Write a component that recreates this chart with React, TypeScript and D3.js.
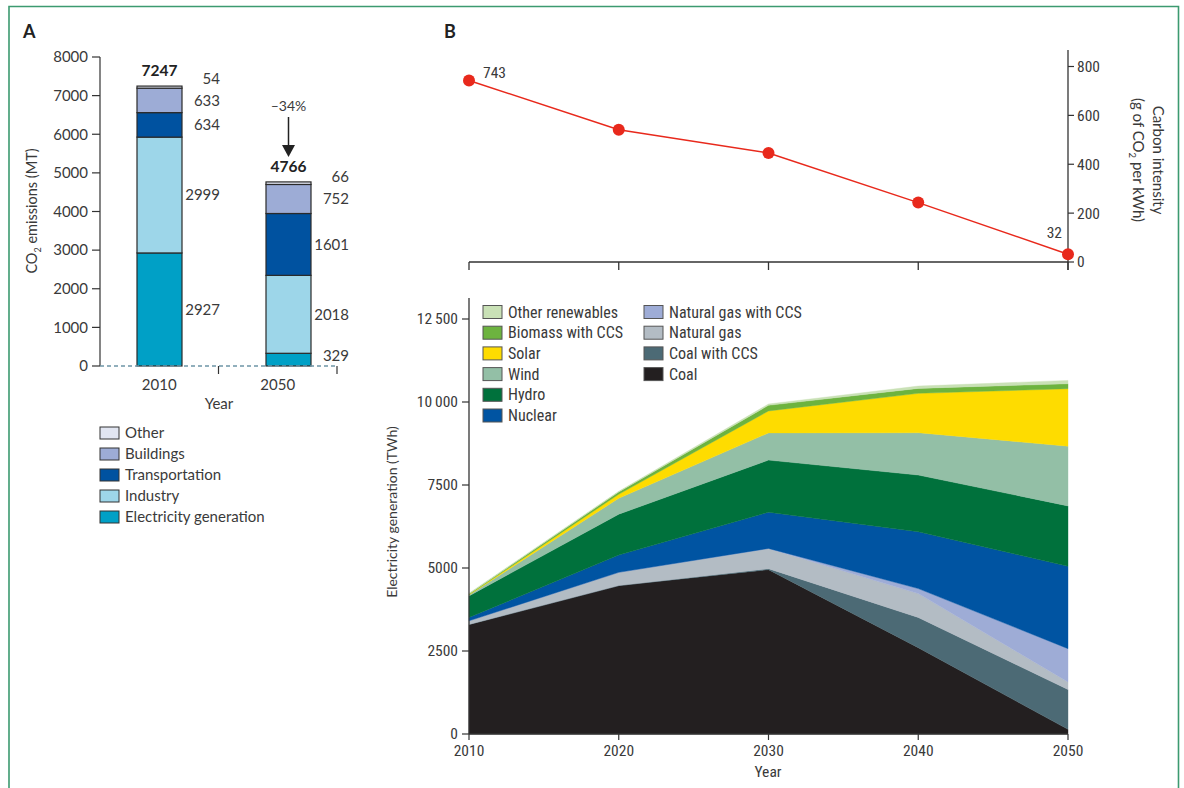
import React from "react";
import * as d3 from "d3";

// ---------- Panel A data ----------
const barYears = ["2010", "2050"];
const sectors = ["Electricity generation", "Industry", "Transportation", "Buildings", "Other"];
const electricity = [2927, 329];
const industry = [2999, 2018];
const transportation = [634, 1601];
const buildings = [633, 752];
const otherSector = [54, 66];
const totals = [7247, 4766];
const sectorColors = ["#00a0c6", "#9dd6e9", "#0052a0", "#9dacd6", "#e1e5f1"];
const yTicksA = [0, 1000, 2000, 3000, 4000, 5000, 6000, 7000, 8000];
const reductionLabel = "–34%";

// ---------- Panel B data ----------
const years = [2010, 2020, 2030, 2040, 2050];
const intensity = [743, 541, 446, 243, 32];
const intensityTicks = [0, 200, 400, 600, 800];

const coal = [3300, 4470, 4950, 2600, 140];
const coalCCS = [0, 0, 30, 910, 1200];
const naturalGas = [110, 400, 610, 720, 230];
const gasCCS = [0, 0, 0, 150, 1000];
const nuclear = [100, 520, 1090, 1710, 2480];
const hydro = [650, 1230, 1570, 1710, 1820];
const wind = [30, 480, 820, 1275, 1800];
const solar = [10, 120, 660, 1185, 1730];
const biomassCCS = [20, 70, 170, 150, 150];
const otherRenew = [20, 20, 40, 70, 100];
const genTicks = [0, 2500, 5000, 7500, 10000, 12500];

const sourceNames = [
  "Coal", "Coal with CCS", "Natural gas", "Natural gas with CCS", "Nuclear",
  "Hydro", "Wind", "Solar", "Biomass with CCS", "Other renewables",
];
const sourceSeries = [coal, coalCCS, naturalGas, gasCCS, nuclear, hydro, wind, solar, biomassCCS, otherRenew];
const sourceColors = [
  "#231f20", "#4c6a75", "#b3bcc4", "#9eacd6", "#0054a2",
  "#00713c", "#93bfa6", "#fedc00", "#6db33f", "#c9e1b6",
];
const legendCol1 = ["Other renewables", "Biomass with CCS", "Solar", "Wind", "Hydro", "Nuclear"];
const legendCol2 = ["Natural gas with CCS", "Natural gas", "Coal with CCS", "Coal"];

const FA = "Lato, 'Open Sans', sans-serif";
const FB = "'Liberation Sans Narrow', 'Roboto Condensed', Lato, sans-serif";
const TXT = "#3a3a3a";
const AX = "#333";

export default function App() {
  // ---- Panel A scales ----
  const yA = d3.scaleLinear().domain([0, 8000]).range([366, 57]);
  const xBand = d3.scaleBand<string>().domain(barYears).range([100, 337]);
  const xBar = d3.scalePoint<string>().domain(barYears).range([159.5, 288.5]);
  const barW = 45;
  const sectorVals = [electricity, industry, transportation, buildings, otherSector];

  const barGroups = barYears.map((yr, i) => {
    let cum = 0;
    const segs = sectorVals.map((arr, k) => {
      const y0 = cum;
      cum += arr[i];
      return { k, y0, y1: cum, v: arr[i] };
    });
    let prev = Infinity;
    const labels = segs.map((s) => {
      let ly = Math.min(yA((s.y0 + s.y1) / 2), 356);
      if (prev - ly < 22) ly = prev - 22;
      prev = ly;
      return { v: s.v, ly, k: s.k };
    });
    return { yr, i, segs, labels, total: cum };
  });

  // ---- Panel B scales ----
  const xB = d3.scaleLinear().domain([2010, 2050]).range([469, 1068]);
  const yLine = d3.scaleLinear().domain([0, 800]).range([262, 66.5]);
  const yArea = d3.scaleLinear().domain([0, 12500]).range([734, 319]);

  const lineGen = d3
    .line<number>()
    .x((_, i) => xB(years[i]))
    .y((d) => yLine(d));

  const table = years.map((yr, i) => {
    const row: Record<string, number> = { year: yr };
    sourceNames.forEach((n, k) => (row[n] = sourceSeries[k][i]));
    return row;
  });
  const stacked = d3.stack<Record<string, number>>().keys(sourceNames)(table);
  const areaGen = d3
    .area<d3.SeriesPoint<Record<string, number>>>()
    .x((d) => xB(d.data.year))
    .y0((d) => yArea(d[0]))
    .y1((d) => yArea(d[1]));

  const fmt = (v: number) => (v >= 10000 ? d3.format(",")(v).replace(",", "\u2009") : String(v));

  return (
    <svg
      width={1184}
      height={788}
      style={{ position: "absolute", left: 0, top: 0, background: "#fff" }}
    >
      {/* frame */}
      <path d="M9,788 V6.5 H1178.5 V788" fill="none" stroke="#3c9a70" strokeWidth={1.6} />

      {/* ================= Panel A ================= */}
      <text x={23} y={38} fontFamily={FA} fontWeight={700} fontSize={18} fill="#222">A</text>

      <line x1={100} x2={100} y1={yA(8000)} y2={yA(0)} stroke={AX} strokeWidth={1.2} />
      {yTicksA.map((t) => (
        <g key={t}>
          <line x1={92} x2={100} y1={yA(t)} y2={yA(t)} stroke={AX} strokeWidth={1.2} />
          <text x={88} y={yA(t)} dy="0.35em" textAnchor="end" fontFamily={FA} fontSize={15} fill={TXT}>
            {t}
          </text>
        </g>
      ))}
      <text
        transform={`translate(37,${211}) rotate(-90)`}
        textAnchor="middle"
        fontFamily={FA}
        fontSize={14.5}
        fill={TXT}
      >
        CO<tspan fontSize={9} dy={4}>2</tspan>
        <tspan dy={-4}> emissions (MT)</tspan>
      </text>

      {barGroups.map((g) => {
        const cx = xBar(g.yr)!;
        return (
          <g key={g.yr}>
            {g.segs.map((s) => (
              <rect
                key={s.k}
                x={cx - barW / 2}
                y={yA(s.y1)}
                width={barW}
                height={yA(s.y0) - yA(s.y1)}
                fill={sectorColors[s.k]}
                stroke="#2a2a2a"
                strokeWidth={1.2}
              />
            ))}
            {g.labels.map((l) => (
              <text
                key={l.k}
                x={cx + barW / 2 + 38}
                y={l.ly}
                dy="0.35em"
                textAnchor="end"
                fontFamily={FA}
                fontSize={15}
                fill={TXT}
              >
                {l.v}
              </text>
            ))}
            <text
              x={cx}
              y={yA(totals[g.i]) - 10}
              textAnchor="middle"
              fontFamily={FA}
              fontWeight={700}
              fontSize={15.5}
              fill="#222"
            >
              {totals[g.i]}
            </text>
          </g>
        );
      })}

      {(() => {
        const cx = xBar(barYears[1])!;
        return (
          <g>
            <text x={cx} y={111} textAnchor="middle" fontFamily={FA} fontSize={14} fill={TXT}>
              {reductionLabel}
            </text>
            <line x1={cx} x2={cx} y1={117} y2={146} stroke="#222" strokeWidth={1.5} />
            <path d={`M${cx - 6.5},145 L${cx + 6.5},145 L${cx},157 Z`} fill="#222" />
          </g>
        );
      })()}

      <line x1={100} x2={337} y1={yA(0)} y2={yA(0)} stroke="#6d95a6" strokeWidth={1.3} strokeDasharray="4,3" />
      {barYears.map((yr) => (
        <g key={yr}>
          <line
            x1={xBand(yr)! + xBand.bandwidth()}
            x2={xBand(yr)! + xBand.bandwidth()}
            y1={yA(0)}
            y2={yA(0) + 8}
            stroke={AX}
            strokeWidth={1.2}
          />
          <text x={xBand(yr)! + xBand.bandwidth() / 2} y={390} textAnchor="middle" fontFamily={FA} fontSize={15} fill={TXT}>
            {yr}
          </text>
        </g>
      ))}
      <text x={219} y={409} textAnchor="middle" fontFamily={FA} fontSize={15} fill={TXT}>Year</text>

      {[...sectors].reverse().map((s, j) => {
        const k = sectors.length - 1 - j;
        const y = 433 + j * 21;
        return (
          <g key={s}>
            <rect x={100} y={y - 6} width={19} height={12} fill={sectorColors[k]} stroke="#333" strokeWidth={1} />
            <text x={125} y={y} dy="0.35em" fontFamily={FA} fontSize={15} fill={TXT}>{s}</text>
          </g>
        );
      })}

      {/* ================= Panel B ================= */}
      <text x={444} y={38} fontFamily={FA} fontWeight={700} fontSize={18} fill="#222">B</text>

      <line x1={xB(2010)} x2={xB(2050)} y1={yLine(0)} y2={yLine(0)} stroke={AX} strokeWidth={1.3} />
      {years.map((yr) => (
        <line key={yr} x1={xB(yr)} x2={xB(yr)} y1={yLine(0)} y2={yLine(0) + 8} stroke={AX} strokeWidth={1.3} />
      ))}
      <line x1={xB(2050)} x2={xB(2050)} y1={50} y2={yLine(0) + 8} stroke={AX} strokeWidth={1.3} />
      {intensityTicks.map((t) => (
        <g key={t}>
          <line x1={xB(2050)} x2={xB(2050) + 6} y1={yLine(t)} y2={yLine(t)} stroke={AX} strokeWidth={1.2} />
          <text x={xB(2050) + 9} y={yLine(t)} dy="0.35em" fontFamily={FB} fontSize={15.5} fill={TXT}>{t}</text>
        </g>
      ))}
      <text transform={`translate(1153,160) rotate(90)`} textAnchor="middle" fontFamily={FA} fontSize={15} fill={TXT}>
        Carbon intensity
      </text>
      <text transform={`translate(1133,160) rotate(90)`} textAnchor="middle" fontFamily={FA} fontSize={15} fill={TXT}>
        (g of CO<tspan fontSize={9.5} dy={4}>2</tspan><tspan dy={-4}> per kWh)</tspan>
      </text>

      <path d={lineGen(intensity) ?? ""} fill="none" stroke="#e8291c" strokeWidth={1.5} />
      {intensity.map((v, i) => (
        <circle key={i} cx={xB(years[i])} cy={yLine(v)} r={6} fill="#e8291c" />
      ))}
      <text x={xB(years[0]) + 14} y={yLine(intensity[0]) - 2} fontFamily={FB} fontSize={15.5} fill={TXT}>
        {intensity[0]}
      </text>
      <text
        x={xB(years[4]) - 6}
        y={yLine(intensity[4]) - 16}
        textAnchor="end"
        fontFamily={FB}
        fontSize={15.5}
        fill={TXT}
      >
        {intensity[4]}
      </text>

      {stacked.map((s, k) => (
        <path key={s.key} d={areaGen(s) ?? ""} fill={sourceColors[k]} stroke={sourceColors[k]} strokeWidth={0.4} />
      ))}

      <line x1={xB(2010)} x2={xB(2010)} y1={298} y2={yArea(0)} stroke={AX} strokeWidth={1.3} />
      <line x1={xB(2010)} x2={xB(2050)} y1={yArea(0)} y2={yArea(0)} stroke={AX} strokeWidth={1.3} />
      {genTicks.map((t) => (
        <g key={t}>
          <line x1={xB(2010) - 7} x2={xB(2010)} y1={yArea(t)} y2={yArea(t)} stroke={AX} strokeWidth={1.2} />
          <text x={xB(2010) - 11} y={yArea(t)} dy="0.35em" textAnchor="end" fontFamily={FB} fontSize={15.5} fill={TXT}>
            {fmt(t)}
          </text>
        </g>
      ))}
      {years.map((yr) => (
        <g key={yr}>
          <line x1={xB(yr)} x2={xB(yr)} y1={yArea(0)} y2={yArea(0) + 6} stroke={AX} strokeWidth={1.2} />
          <text x={xB(yr)} y={756} textAnchor="middle" fontFamily={FB} fontSize={15.5} fill={TXT}>{yr}</text>
        </g>
      ))}
      <text x={768} y={777} textAnchor="middle" fontFamily={FB} fontSize={15.5} fill={TXT}>Year</text>
      <text
        transform={`translate(397,512) rotate(-90)`}
        textAnchor="middle"
        fontFamily={FA}
        fontSize={14}
        fill={TXT}
      >
        Electricity generation (TWh)
      </text>

      {legendCol1.map((n, j) => {
        const k = sourceNames.indexOf(n);
        const y = 312 + j * 20.7;
        return (
          <g key={n}>
            <rect x={483} y={y - 6.5} width={19} height={13} fill={sourceColors[k]} stroke="#555" strokeWidth={1} />
            <text x={508} y={y} dy="0.35em" fontFamily={FB} fontSize={16} fill={TXT}>{n}</text>
          </g>
        );
      })}
      {legendCol2.map((n, j) => {
        const k = sourceNames.indexOf(n);
        const y = 312 + j * 20.7;
        return (
          <g key={n}>
            <rect x={644} y={y - 6.5} width={19} height={13} fill={sourceColors[k]} stroke="#555" strokeWidth={1} />
            <text x={669} y={y} dy="0.35em" fontFamily={FB} fontSize={16} fill={TXT}>{n}</text>
          </g>
        );
      })}
    </svg>
  );
}
